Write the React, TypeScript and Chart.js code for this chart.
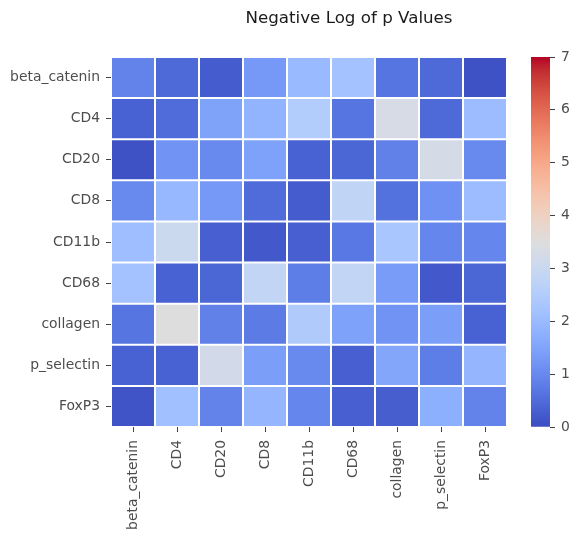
import { useEffect, useRef } from 'react';
import { Chart, registerables } from 'chart.js';

Chart.register(...registerables);

// Markers compared against each other (rows and columns share the same order)
const markers = ['beta_catenin', 'CD4', 'CD20', 'CD8', 'CD11b', 'CD68', 'collagen', 'p_selectin', 'FoxP3'];

// -log10(p) per row marker, one value per column marker
const betaCateninRow = [0.9, 0.45, 0.25, 1.3, 2.0, 2.2, 0.65, 0.45, 0.1];
const cd4Row = [0.35, 0.5, 1.5, 1.85, 2.5, 0.65, 3.3, 0.45, 2.05];
const cd20Row = [0.1, 1.2, 1.0, 1.45, 0.35, 0.4, 0.85, 3.25, 1.0];
const cd8Row = [1.0, 1.95, 1.3, 0.5, 0.25, 2.8, 0.6, 1.15, 2.05];
const cd11bRow = [2.1, 3.05, 0.3, 0.2, 0.3, 0.7, 2.3, 0.95, 0.95];
const cd68Row = [2.2, 0.35, 0.4, 2.85, 0.8, 2.85, 1.35, 0.2, 0.4];
const collagenRow = [0.65, 3.5, 0.85, 0.75, 2.45, 1.45, 1.2, 1.4, 0.35];
const pSelectinRow = [0.35, 0.35, 3.2, 1.4, 1.0, 0.3, 1.55, 0.8, 1.9];
const foxp3Row = [0.12, 2.15, 0.9, 1.9, 0.95, 0.3, 0.28, 1.75, 0.9];

const rows = [betaCateninRow, cd4Row, cd20Row, cd8Row, cd11bRow, cd68Row, collagenRow, pSelectinRow, foxp3Row];

// Colour scale range and colour bar ticks
const vMin = 0;
const vMax = 7;
const colorbarTicks = [0, 1, 2, 3, 4, 5, 6, 7];

const FONT = "'DejaVu Sans', 'Liberation Sans', sans-serif";
const TICK_COLOR = '#4d4d4d';

// Diverging blue-white-red colour map (33 evenly spaced stops)
const COOLWARM: number[][] = [
  [59, 76, 192], [68, 90, 204], [77, 104, 215], [87, 117, 225], [98, 130, 234],
  [108, 142, 241], [119, 154, 247], [130, 165, 251], [141, 176, 254], [152, 185, 255],
  [163, 194, 255], [174, 201, 253], [184, 208, 249], [194, 213, 244], [204, 217, 238],
  [213, 219, 230], [221, 221, 221], [229, 216, 209], [236, 211, 197], [241, 204, 185],
  [245, 196, 173], [247, 187, 160], [247, 177, 148], [247, 166, 135], [244, 154, 123],
  [241, 141, 111], [236, 127, 99], [229, 112, 88], [222, 96, 77], [213, 80, 66],
  [203, 62, 56], [192, 40, 47], [180, 4, 38],
];

function coolwarm(t: number): string {
  const f = Math.min(1, Math.max(0, t)) * (COOLWARM.length - 1);
  const i = Math.min(COOLWARM.length - 2, Math.floor(f));
  const w = f - i;
  const a = COOLWARM[i];
  const b = COOLWARM[i + 1];
  const c = a.map((v, k) => Math.round(v + (b[k] - v) * w));
  return `rgb(${c[0]},${c[1]},${c[2]})`;
}

const colorFor = (v: number) => coolwarm((v - vMin) / (vMax - vMin));

const titlePlugin = {
  id: 'figureTitle',
  afterDraw(chart: Chart) {
    const { ctx } = chart;
    ctx.save();
    ctx.font = `16.7px ${FONT}`;
    ctx.fillStyle = '#1a1a1a';
    ctx.textAlign = 'center';
    ctx.textBaseline = 'alphabetic';
    ctx.fillText('Negative Log of p Values', 349, 23);
    ctx.restore();
  },
};

export default function App() {
  const mainRef = useRef<HTMLCanvasElement>(null);
  const barRef = useRef<HTMLCanvasElement>(null);

  useEffect(() => {
    if (!mainRef.current || !barRef.current) return;

    const heatmap = new Chart(mainRef.current, {
      type: 'bar',
      data: {
        labels: markers,
        datasets: rows.map((vals, r) => ({
          label: markers[r],
          data: markers.map(() => [r, r + 1]),
          backgroundColor: vals.map(colorFor),
          borderColor: '#ffffff',
          borderWidth: 1,
          borderSkipped: false,
          inflateAmount: 0,
          grouped: false,
          barPercentage: 1,
          categoryPercentage: 1,
        })) as any,
      },
      options: {
        responsive: false,
        animation: false,
        devicePixelRatio: 1,
        layout: { padding: { left: 0, top: 57, right: 71, bottom: 0 } },
        plugins: { legend: { display: false }, tooltip: { enabled: false }, title: { display: false } },
        scales: {
          x: {
            type: 'category',
            offset: true,
            afterFit: (scale: any) => { scale.height = 110; },
            grid: { offset: false, drawOnChartArea: false, drawTicks: true, tickLength: 5, tickColor: '#444', tickWidth: 1 },
            border: { display: false },
            ticks: { font: { family: FONT, size: 13.9 }, color: TICK_COLOR, minRotation: 90, maxRotation: 90, autoSkip: false, padding: 8 },
          },
          y: {
            type: 'linear',
            min: 0,
            max: markers.length,
            reverse: true,
            afterFit: (scale: any) => { scale.width = 111; },
            afterBuildTicks: (scale: any) => {
              scale.ticks = markers.map((_, i) => ({ value: i + 0.5 }));
            },
            grid: { drawOnChartArea: false, drawTicks: true, tickLength: 5, tickColor: '#444', tickWidth: 1 },
            border: { display: false },
            ticks: {
              font: { family: FONT, size: 13.9 },
              color: TICK_COLOR,
              padding: 6,
              autoSkip: false,
              callback: (_v: any, i: number) => markers[i],
            },
          },
        },
      },
      plugins: [titlePlugin],
    });

    const colorbar = new Chart(barRef.current, {
      type: 'bar',
      data: {
        labels: ['scale'],
        datasets: [{
          data: [[vMin, vMax]] as any,
          backgroundColor: (c: any) => {
            const area = c.chart.chartArea;
            if (!area) return colorFor(vMin);
            const g = c.chart.ctx.createLinearGradient(0, area.bottom, 0, area.top);
            COOLWARM.forEach((_, i) => g.addColorStop(i / (COOLWARM.length - 1), coolwarm(i / (COOLWARM.length - 1))));
            return g;
          },
          borderWidth: 0,
          barPercentage: 1,
          categoryPercentage: 1,
        }],
      },
      options: {
        responsive: false,
        animation: false,
        devicePixelRatio: 1,
        layout: { padding: { left: 531, top: 57, right: 0, bottom: 110 } },
        plugins: { legend: { display: false }, tooltip: { enabled: false } },
        scales: {
          x: { display: false },
          y: {
            type: 'linear',
            position: 'right',
            min: vMin,
            max: vMax,
            afterFit: (scale: any) => { scale.width = 28; },
            afterBuildTicks: (scale: any) => {
              scale.ticks = colorbarTicks.map((v) => ({ value: v }));
            },
            grid: { drawOnChartArea: false, drawTicks: true, tickLength: 5, tickColor: '#444', tickWidth: 1 },
            border: { display: false },
            ticks: { font: { family: FONT, size: 13.9 }, color: TICK_COLOR, padding: 6 },
          },
        },
      },
    });

    return () => {
      heatmap.destroy();
      colorbar.destroy();
    };
  }, []);

  return (
    <div style={{ position: 'fixed', left: 0, top: 0, width: 578, height: 537, background: '#ffffff' }}>
      <canvas ref={mainRef} width={578} height={537} style={{ position: 'absolute', left: 0, top: 0 }} />
      <canvas ref={barRef} width={578} height={537} style={{ position: 'absolute', left: 0, top: 0 }} />
    </div>
  );
}
